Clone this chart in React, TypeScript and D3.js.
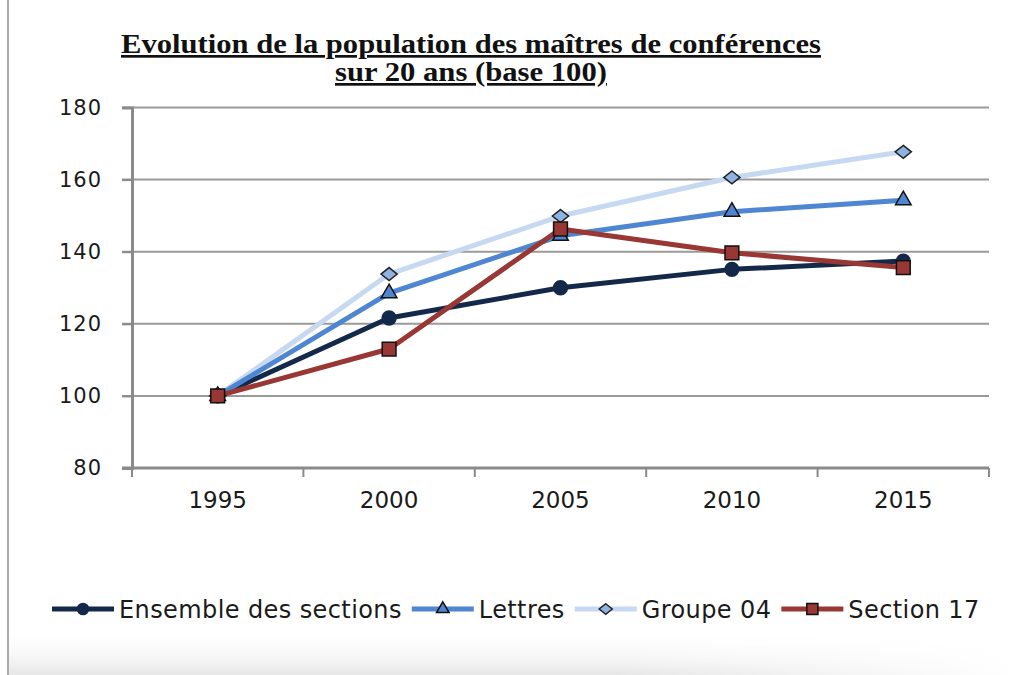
import React, { useEffect, useRef } from 'react';
import * as d3 from 'd3';

const years = ['1995', '2000', '2005', '2010', '2015'];
const yTicks = [80, 100, 120, 140, 160, 180];

const ensemble = [100, 121.6, 130, 135.1, 137.4];
const lettres = [100, 128.5, 144.4, 151.1, 154.3];
const groupe04 = [100, 133.8, 149.9, 160.6, 167.7];
const section17 = [100, 113, 146.3, 139.7, 135.6];

const seriesNames = ['Ensemble des sections', 'Lettres', 'Groupe 04', 'Section 17'];
const seriesValues = [ensemble, lettres, groupe04, section17];

// wide, flat diamond like the Excel marker
const flatDiamond: d3.SymbolType = {
  draw(context, size) {
    const w = Math.sqrt(size) * 0.62;
    const h = w * 0.8;
    context.moveTo(0, -h);
    context.lineTo(w, 0);
    context.lineTo(0, h);
    context.lineTo(-w, 0);
    context.closePath();
  },
};

const lineColors = ['#14294a', '#4f86d2', '#c6d9f1', '#983734'];
const markerFills = ['#14294a', '#4f86d2', '#8db3e2', '#983734'];
const markerStrokes = ['#14294a', '#111', '#222', '#111'];
const markerTypes = [d3.symbolCircle, d3.symbolTriangle, flatDiamond, d3.symbolSquare];
const markerSizes = [150, 105, 170, 190];

const App = () => {
  const svgRef = useRef<SVGSVGElement>(null);

  useEffect(() => {
    const svg = d3.select(svgRef.current);
    svg.selectAll('*').remove();

    const left = 132, right = 989, top = 107.5, bottom = 468;

    const x = d3.scaleBand().domain(years).range([left, right]).padding(0);
    const y = d3.scaleLinear().domain([80, 180]).range([bottom, top]);

    // window frame on the left and bottom shading
    const defs = svg.append('defs');
    const grad = defs.append('linearGradient').attr('id', 'shade').attr('x1', 0).attr('x2', 0).attr('y1', 0).attr('y2', 1);
    grad.append('stop').attr('offset', '0%').attr('stop-color', '#fff').attr('stop-opacity', 0);
    grad.append('stop').attr('offset', '100%').attr('stop-color', '#e6e6e6').attr('stop-opacity', 1);
    const grad2 = defs.append('linearGradient').attr('id', 'fade').attr('x1', 0).attr('x2', 1).attr('y1', 0).attr('y2', 0);
    grad2.append('stop').attr('offset', '0%').attr('stop-color', '#fff').attr('stop-opacity', 0);
    grad2.append('stop').attr('offset', '60%').attr('stop-color', '#fff').attr('stop-opacity', 0);
    grad2.append('stop').attr('offset', '100%').attr('stop-color', '#fff').attr('stop-opacity', 1);
    svg.append('rect').attr('x', 8).attr('y', 630).attr('width', 1010).attr('height', 45).attr('fill', 'url(#shade)');
    svg.append('rect').attr('x', 8).attr('y', 630).attr('width', 1010).attr('height', 45).attr('fill', 'url(#fade)');
    svg.append('line').attr('x1', 8).attr('x2', 8).attr('y1', 0).attr('y2', 675)
      .attr('stroke', '#aaa').attr('stroke-width', 2);

    // title
    const title = svg.append('g')
      .attr('font-family', '"Liberation Serif", "Times New Roman", serif')
      .attr('font-weight', 'bold').attr('fill', '#111')
      .attr('text-decoration', 'underline').attr('text-anchor', 'middle');
    title.append('text').attr('x', 471).attr('y', 53).attr('font-size', 27)
      .attr('textLength', 700).attr('lengthAdjust', 'spacingAndGlyphs')
      .text('Evolution de la population des maîtres de conférences');
    title.append('text').attr('x', 471).attr('y', 81).attr('font-size', 27)
      .attr('textLength', 272).attr('lengthAdjust', 'spacingAndGlyphs')
      .text('sur 20 ans (base 100)');

    // grid
    svg.append('g').selectAll('line').data(yTicks.filter((t) => t !== 80)).join('line')
      .attr('x1', left - 10).attr('x2', right).attr('y1', (d) => y(d)).attr('y2', (d) => y(d))
      .attr('stroke', '#9a9a9a').attr('stroke-width', 2);

    // y axis
    const yAxis = svg.append('g').attr('transform', `translate(${left},0)`)
      .call(d3.axisLeft(y).tickValues(yTicks).tickSize(10).tickPadding(20));
    yAxis.select('.domain').attr('stroke', '#8a8a8a').attr('stroke-width', 3);
    yAxis.selectAll('.tick line').attr('stroke', '#8a8a8a').attr('stroke-width', 2);
    yAxis.selectAll('.tick text').attr('font-family', '"DejaVu Sans", Verdana, sans-serif')
      .attr('font-size', 21).attr('letter-spacing', 1).attr('fill', '#1a1a1a');

    // x axis
    const xAxis = svg.append('g').attr('transform', `translate(0,${bottom})`);
    xAxis.append('line').attr('x1', left - 10).attr('x2', right).attr('y1', 0).attr('y2', 0)
      .attr('stroke', '#8a8a8a').attr('stroke-width', 3);
    const edges = years.map((yr) => x(yr)!).concat([right]);
    xAxis.selectAll('.tk').data(edges).join('line').attr('class', 'tk')
      .attr('x1', (d) => d).attr('x2', (d) => d).attr('y1', 0).attr('y2', 9)
      .attr('stroke', '#8a8a8a').attr('stroke-width', 2);
    xAxis.selectAll('text').data(years).join('text')
      .attr('x', (d) => x(d)! + x.bandwidth() / 2).attr('y', 40)
      .attr('text-anchor', 'middle').attr('font-family', '"DejaVu Sans", Verdana, sans-serif')
      .attr('font-size', 23).attr('fill', '#1a1a1a').text((d) => d);

    // lines
    const line = d3.line<number>().x((_, i) => x(years[i])! + x.bandwidth() / 2).y((d) => y(d));
    const order = [0, 2, 1, 3];
    order.forEach((s) => {
      svg.append('path').datum(seriesValues[s]).attr('d', line)
        .attr('fill', 'none').attr('stroke', lineColors[s]).attr('stroke-width', 5)
        .attr('stroke-linejoin', 'round');
    });
    order.forEach((s) => {
      svg.append('g').selectAll('path').data(seriesValues[s]).join('path')
        .attr('transform', (d, i) => `translate(${x(years[i])! + x.bandwidth() / 2},${y(d)})`)
        .attr('d', d3.symbol().type(markerTypes[s]).size(markerSizes[s])())
        .attr('fill', markerFills[s]).attr('stroke', markerStrokes[s]).attr('stroke-width', 1.5);
    });

    // legend
    const legend = svg.append('g').attr('transform', 'translate(52,609)');
    let cx = 0;
    seriesNames.forEach((name, s) => {
      const g = legend.append('g').attr('transform', `translate(${cx},0)`);
      g.append('line').attr('x1', 0).attr('x2', 62).attr('y1', 0).attr('y2', 0)
        .attr('stroke', lineColors[s]).attr('stroke-width', 5);
      g.append('path').attr('transform', 'translate(31,0)')
        .attr('d', d3.symbol().type(markerTypes[s]).size(markerSizes[s] * 0.65)())
        .attr('fill', markerFills[s]).attr('stroke', markerStrokes[s]).attr('stroke-width', 1.5);
      const t = g.append('text').attr('x', 67).attr('y', 8.5)
        .attr('font-family', '"DejaVu Sans", Verdana, sans-serif')
        .attr('font-size', 24).attr('letter-spacing', 0.4).attr('fill', '#1a1a1a').text(name);
      const w = (t.node() as SVGTextElement).getComputedTextLength();
      cx += 67 + w + 10;
    });
  }, []);

  return (
    <svg ref={svgRef} width={1018} height={675}
      style={{ position: 'absolute', left: 0, top: 0, background: '#fff' }} />
  );
};

export default App;
